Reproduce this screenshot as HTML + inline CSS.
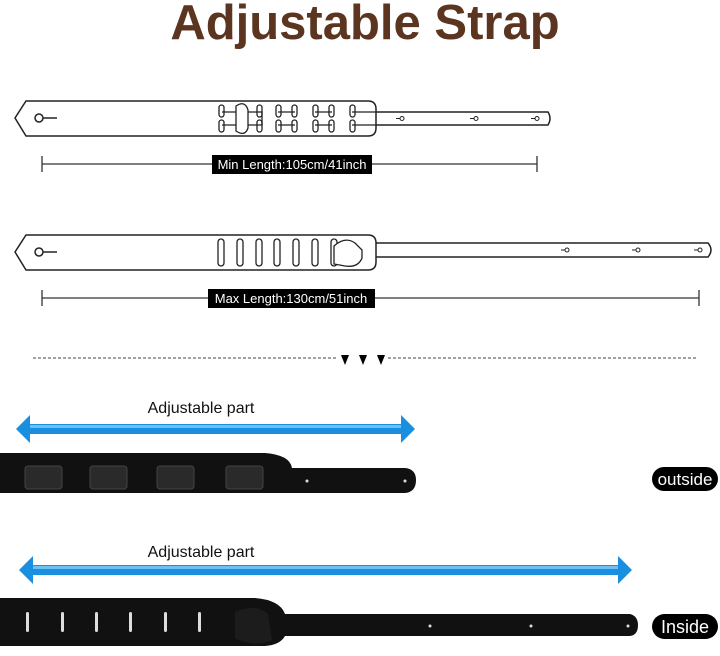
<!DOCTYPE html>
<html><head><meta charset="utf-8"><style>
html,body{margin:0;padding:0;background:#fff;width:720px;height:656px;overflow:hidden}
svg{display:block}
</style></head><body>
<svg width="720" height="656" viewBox="0 0 720 656" xmlns="http://www.w3.org/2000/svg" font-family="Liberation Sans, sans-serif">
<text x="365" y="39" text-anchor="middle" font-size="49" font-weight="bold" fill="#5b3520">Adjustable Strap</text>

<g fill="#fff" stroke="#222" stroke-width="1.5">
<path d="M370,112 L548,112 Q552,118.5 548,125 L370,125 Z"/>
<path d="M26,101 L368,101 Q376,101 376,109 L376,128 Q376,136 368,136 L26,136 L15,118 Z"/>
<circle cx="39" cy="118" r="4" fill="none"/>
<line x1="43" y1="118" x2="57" y2="118"/>
</g>
<g fill="none" stroke="#222" stroke-width="1.3">
<rect x="219" y="105" width="5" height="12" rx="2.5"/><rect x="219" y="120" width="5" height="12" rx="2.5"/>
<rect x="257" y="105" width="5" height="12" rx="2.5"/><rect x="257" y="120" width="5" height="12" rx="2.5"/>
<rect x="276" y="105" width="5" height="12" rx="2.5"/><rect x="276" y="120" width="5" height="12" rx="2.5"/>
<rect x="292" y="105" width="5" height="12" rx="2.5"/><rect x="292" y="120" width="5" height="12" rx="2.5"/>
<rect x="313" y="105" width="5" height="12" rx="2.5"/><rect x="313" y="120" width="5" height="12" rx="2.5"/>
<rect x="329" y="105" width="5" height="12" rx="2.5"/><rect x="329" y="120" width="5" height="12" rx="2.5"/>
<rect x="350" y="105" width="5" height="12" rx="2.5"/><rect x="350" y="120" width="5" height="12" rx="2.5"/>
<path d="M222,112 L262,112 L262,125 L222,125"/>
<path d="M278,112 L295,112 M278,125 L295,125 M315,112 L332,112 M315,125 L332,125 M352,112 L376,112 M352,125 L376,125"/>
<path d="M236,106 Q245,100 248,110 L248,128 Q245,137 236,131 Z" fill="#fff"/>
</g>
<g fill="none" stroke="#222" stroke-width="1"><circle cx="402" cy="118.5" r="2"/><line x1="396" y1="118.5" x2="400" y2="118.5"/><circle cx="476" cy="118.5" r="2"/><line x1="470" y1="118.5" x2="474" y2="118.5"/><circle cx="537" cy="118.5" r="2"/><line x1="531" y1="118.5" x2="535" y2="118.5"/></g>
<g stroke="#333" stroke-width="1.3"><line x1="42" y1="164" x2="537" y2="164"/><line x1="42" y1="156" x2="42" y2="172"/><line x1="537" y1="156" x2="537" y2="172"/></g>
<rect x="212" y="155" width="160" height="19" fill="#000"/>
<text x="292" y="169" text-anchor="middle" font-size="13" fill="#fff">Min Length:105cm/41inch</text>

<g fill="#fff" stroke="#222" stroke-width="1.5">
<path d="M370,243 L708,243 Q714,250 708,257 L370,257 Z"/>
<path d="M26,235 L368,235 Q376,235 376,243 L376,262 Q376,270 368,270 L26,270 L15,252 Z"/>
<circle cx="39" cy="252" r="4" fill="none"/>
<line x1="43" y1="252" x2="57" y2="252"/>
</g>
<g fill="none" stroke="#222" stroke-width="1.3">
<rect x="218" y="239" width="6" height="27" rx="3"/><rect x="237" y="239" width="6" height="27" rx="3"/>
<rect x="256" y="239" width="6" height="27" rx="3"/><rect x="274" y="239" width="6" height="27" rx="3"/>
<rect x="293" y="239" width="6" height="27" rx="3"/><rect x="312" y="239" width="6" height="27" rx="3"/>
<rect x="331" y="239" width="6" height="27" rx="3"/>
<path d="M334,246 Q345,236 355,243 L362,250 L362,258 Q358,268 345,266 L334,264 Z" fill="#fff"/>
</g>
<g fill="none" stroke="#222" stroke-width="1"><circle cx="567" cy="250" r="2"/><line x1="561" y1="250" x2="565" y2="250"/><circle cx="638" cy="250" r="2"/><line x1="632" y1="250" x2="636" y2="250"/><circle cx="700" cy="250" r="2"/><line x1="694" y1="250" x2="698" y2="250"/></g>
<g stroke="#333" stroke-width="1.3"><line x1="42" y1="298" x2="699" y2="298"/><line x1="42" y1="290" x2="42" y2="306"/><line x1="699" y1="290" x2="699" y2="306"/></g>
<rect x="208" y="289" width="167" height="19" fill="#000"/>
<text x="291" y="303" text-anchor="middle" font-size="13" fill="#fff">Max Length:130cm/51inch</text>

<line x1="33" y1="358" x2="338" y2="358" stroke="#444" stroke-width="1" stroke-dasharray="3,2"/>
<line x1="388" y1="358" x2="697" y2="358" stroke="#444" stroke-width="1" stroke-dasharray="3,2"/>
<path d="M341,355 L349,355 L345,365 Z M359,355 L367,355 L363,365 Z M377,355 L385,355 L381,365 Z" fill="#000"/>

<text x="201" y="413" text-anchor="middle" font-size="16" fill="#111">Adjustable part</text>
<path d="M16,429 L30,415 L30,424 L401,424 L401,415 L415,429 L401,443 L401,434 L30,434 L30,443 Z" fill="#1a8fe0"/>
<rect x="30" y="425" width="371" height="3" fill="#6cc0f5"/>
<path d="M0,453 L265,453 Q290,455 292,468 L405,468 Q416,469 416,480 Q416,492 405,493 L292,493 L0,493 Z" fill="#111"/>
<g fill="#2a2a2a" stroke="#444" stroke-width="1"><rect x="25" y="466" width="37" height="23" rx="3"/><rect x="90" y="466" width="37" height="23" rx="3"/><rect x="157" y="466" width="37" height="23" rx="3"/><rect x="226" y="466" width="37" height="23" rx="3"/></g>
<circle cx="307" cy="481" r="1.5" fill="#ddd"/><circle cx="405" cy="481" r="1.5" fill="#ddd"/>
<rect x="652" y="467" width="66" height="24" rx="12" fill="#000"/>
<text x="685" y="485" text-anchor="middle" font-size="17" fill="#fff">outside</text>

<text x="201" y="557" text-anchor="middle" font-size="16" fill="#111">Adjustable part</text>
<path d="M19,570 L33,556 L33,565 L618,565 L618,556 L632,570 L618,584 L618,575 L33,575 L33,584 Z" fill="#1a8fe0"/>
<rect x="33" y="566" width="585" height="3" fill="#6cc0f5"/>
<path d="M0,598 L255,598 Q280,600 285,614 L630,614 Q638,616 638,625 Q638,635 630,636 L285,636 Q280,645 265,646 L0,646 Z" fill="#111"/>
<path d="M235,612 Q255,603 268,614 L272,640 Q255,648 235,638 Z" fill="#1c1c1c"/>
<g fill="#ddd"><rect x="26" y="612" width="3" height="20" rx="1.5"/><rect x="61" y="612" width="3" height="20" rx="1.5"/><rect x="95" y="612" width="3" height="20" rx="1.5"/><rect x="129" y="612" width="3" height="20" rx="1.5"/><rect x="164" y="612" width="3" height="20" rx="1.5"/><rect x="198" y="612" width="3" height="20" rx="1.5"/></g>
<circle cx="430" cy="626" r="1.5" fill="#ddd"/><circle cx="531" cy="626" r="1.5" fill="#ddd"/><circle cx="628" cy="626" r="1.5" fill="#ddd"/>
<rect x="652" y="614" width="66" height="25" rx="12.5" fill="#000"/>
<text x="685" y="633" text-anchor="middle" font-size="18" fill="#fff">Inside</text>
</svg>
</body></html>
